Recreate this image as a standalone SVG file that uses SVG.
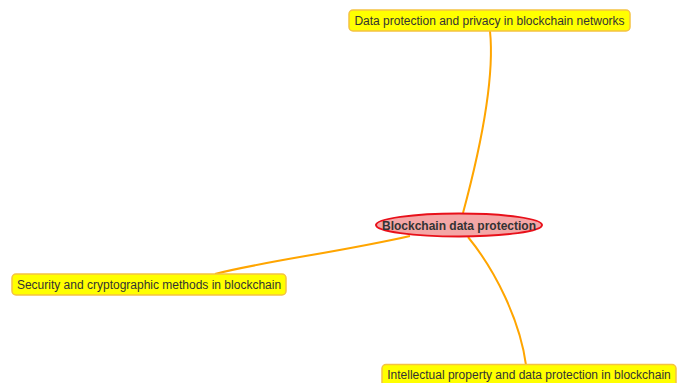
<svg xmlns="http://www.w3.org/2000/svg" width="683" height="383" viewBox="0 0 683 383">
<style>
.n rect{fill:#ffff00;stroke:#f5c242;stroke-width:1.5}
.n text{font-family:"Liberation Sans",Arial,sans-serif;font-size:12px;fill:#333;text-anchor:middle}
.c path{fill:none;stroke:#ffa500;stroke-width:2}
</style>
<rect width="683" height="383" fill="#fff"/>
<g id="connectors" class="c">
<path d="M463,213 C480,150 495,80 490,31"/>
<path d="M410,236 C340,252 260,262 215,274"/>
<path d="M468,237 C495,270 520,320 526,365"/>
</g>
<g id="center" class="n">
<ellipse cx="459" cy="225" rx="83" ry="11.5" fill="#f4a6a6" stroke="#e8101a" stroke-width="2"/>
<text x="459" y="229.5" font-weight="bold">Blockchain data protection</text>
</g>
<g id="top" class="n">
<rect x="349" y="10" width="281" height="21" rx="4"/>
<text x="489.5" y="24.5">Data protection and privacy in blockchain networks</text>
</g>
<g id="left" class="n">
<rect x="12" y="274" width="274" height="21" rx="4"/>
<text x="149" y="288.5">Security and cryptographic methods in blockchain</text>
</g>
<g id="bottom" class="n">
<rect x="382" y="364.5" width="294" height="22" rx="4"/>
<text x="529" y="379">Intellectual property and data protection in blockchain</text>
</g>
</svg>
